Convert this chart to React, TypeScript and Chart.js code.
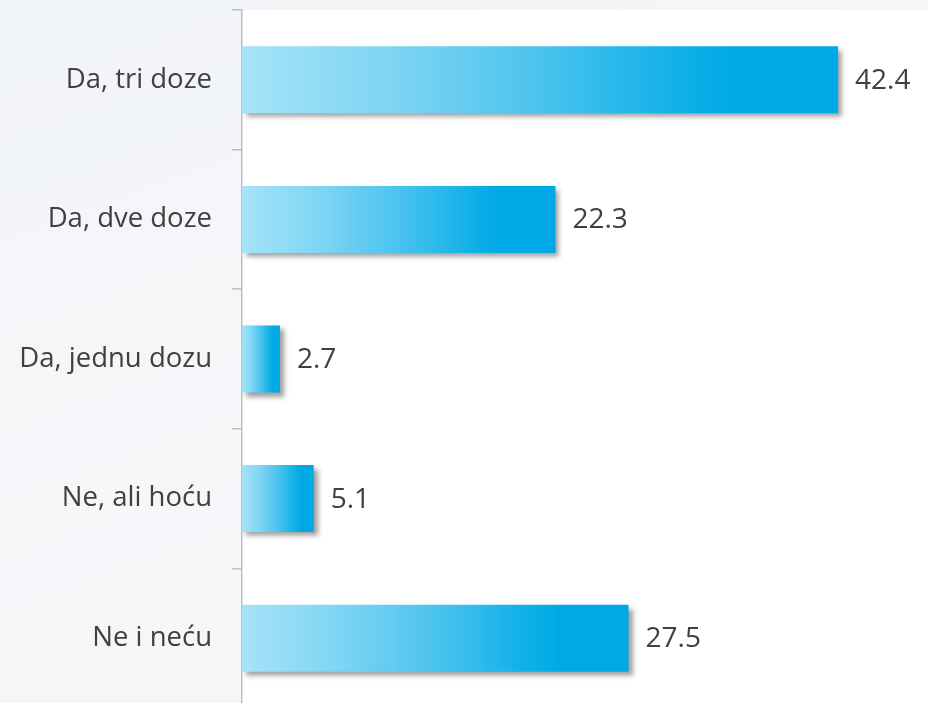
import React, { useEffect, useRef } from "react";
import { Chart, registerables } from "chart.js";

Chart.register(...registerables);

const categories = ["Da, tri doze", "Da, dve doze", "Da, jednu dozu", "Ne, ali hoću", "Ne i neću"];
const values = [42.4, 22.3, 2.7, 5.1, 27.5];
const valueLabels = ["42.4", "22.3", "2.7", "5.1", "27.5"];

const FONT = "'Open Sans', sans-serif";

const plotBg = {
  id: "plotBg",
  beforeDraw(chart: any) {
    const { ctx, chartArea } = chart;
    if (!chartArea) return;
    ctx.save();
    ctx.fillStyle = "#ffffff";
    ctx.fillRect(chartArea.left, chartArea.top, chartArea.right - chartArea.left, chartArea.bottom - chartArea.top);
    ctx.restore();
  },
};

const barShadow = {
  id: "barShadow",
  beforeDatasetsDraw(chart: any) {
    const ctx = chart.ctx;
    ctx.save();
    ctx.shadowColor = "rgba(0,0,0,0.38)";
    ctx.shadowBlur = 5;
    ctx.shadowOffsetX = 4;
    ctx.shadowOffsetY = 4;
  },
  afterDatasetsDraw(chart: any) {
    chart.ctx.restore();
  },
};

const valueLabelPlugin = {
  id: "valueLabels",
  afterDatasetsDraw(chart: any) {
    const ctx = chart.ctx;
    const meta = chart.getDatasetMeta(0);
    ctx.save();
    ctx.font = `28px ${FONT}`;
    ctx.fillStyle = "#404040";
    ctx.textAlign = "left";
    ctx.textBaseline = "middle";
    meta.data.forEach((bar: any, i: number) => {
      ctx.fillText(valueLabels[i], bar.x + 17, bar.y + 1);
    });
    ctx.restore();
  },
};

export default function App() {
  const ref = useRef<HTMLCanvasElement | null>(null);

  useEffect(() => {
    if (!ref.current) return;
    const chart = new Chart(ref.current, {
      type: "bar",
      data: {
        labels: categories,
        datasets: [
          {
            data: values,
            backgroundColor: (context: any) => {
              const chart = context.chart;
              const xs = chart.scales && chart.scales.x;
              if (!xs || context.raw === undefined) return "#2dbbec";
              const x0 = xs.getPixelForValue(0);
              const x1 = xs.getPixelForValue(context.raw);
              if (!isFinite(x0) || !isFinite(x1) || x1 === x0) return "#2dbbec";
              const g = chart.ctx.createLinearGradient(x0, 0, x1, 0);
              g.addColorStop(0, "#a6e3f8");
              g.addColorStop(0.25, "#7fd5f3");
              g.addColorStop(0.5, "#4ac3ee");
              g.addColorStop(0.72, "#14b1e9");
              g.addColorStop(0.82, "#00a9e6");
              g.addColorStop(1, "#00a9e6");
              return g;
            },
            borderWidth: 0,
            barPercentage: 0.48,
            categoryPercentage: 1,
          },
        ],
      },
      options: {
        indexAxis: "y",
        animation: false,
        responsive: false,
        maintainAspectRatio: false,
        layout: { padding: { top: 10, left: 0, right: 0, bottom: 0 } },
        plugins: {
          legend: { display: false },
          tooltip: { enabled: false },
          title: { display: false },
        },
        scales: {
          x: {
            display: false,
            min: 0,
            max: 48.8,
          },
          y: {
            grid: {
              display: true,
              drawOnChartArea: false,
              drawTicks: true,
              tickLength: 10,
              color: "#bfbfbf",
              lineWidth: 1.5,
              offset: true,
            },
            border: { display: true, color: "#bfbfbf", width: 1.5 },
            ticks: {
              font: { family: FONT, size: 27.5 },
              color: "#404040",
              padding: 20,
            },
            afterFit: (scale: any) => {
              scale.width = 242;
              scale.paddingTop = 0;
              scale.paddingBottom = 0;
            },
          },
        },
      },
      plugins: [plotBg, barShadow, valueLabelPlugin],
    } as any);
    return () => chart.destroy();
  }, []);

  return (
    <div
      style={{
        position: "fixed",
        left: 0,
        top: 0,
        width: 928,
        height: 703,
        overflow: "hidden",
        background: "linear-gradient(160deg, #f1f4f8 0%, #f6f7f9 50%, #f2f5f8 100%)",
      }}
    >
      <canvas ref={ref} width={928} height={708} style={{ display: "block", width: 928, height: 708 }} />
    </div>
  );
}
